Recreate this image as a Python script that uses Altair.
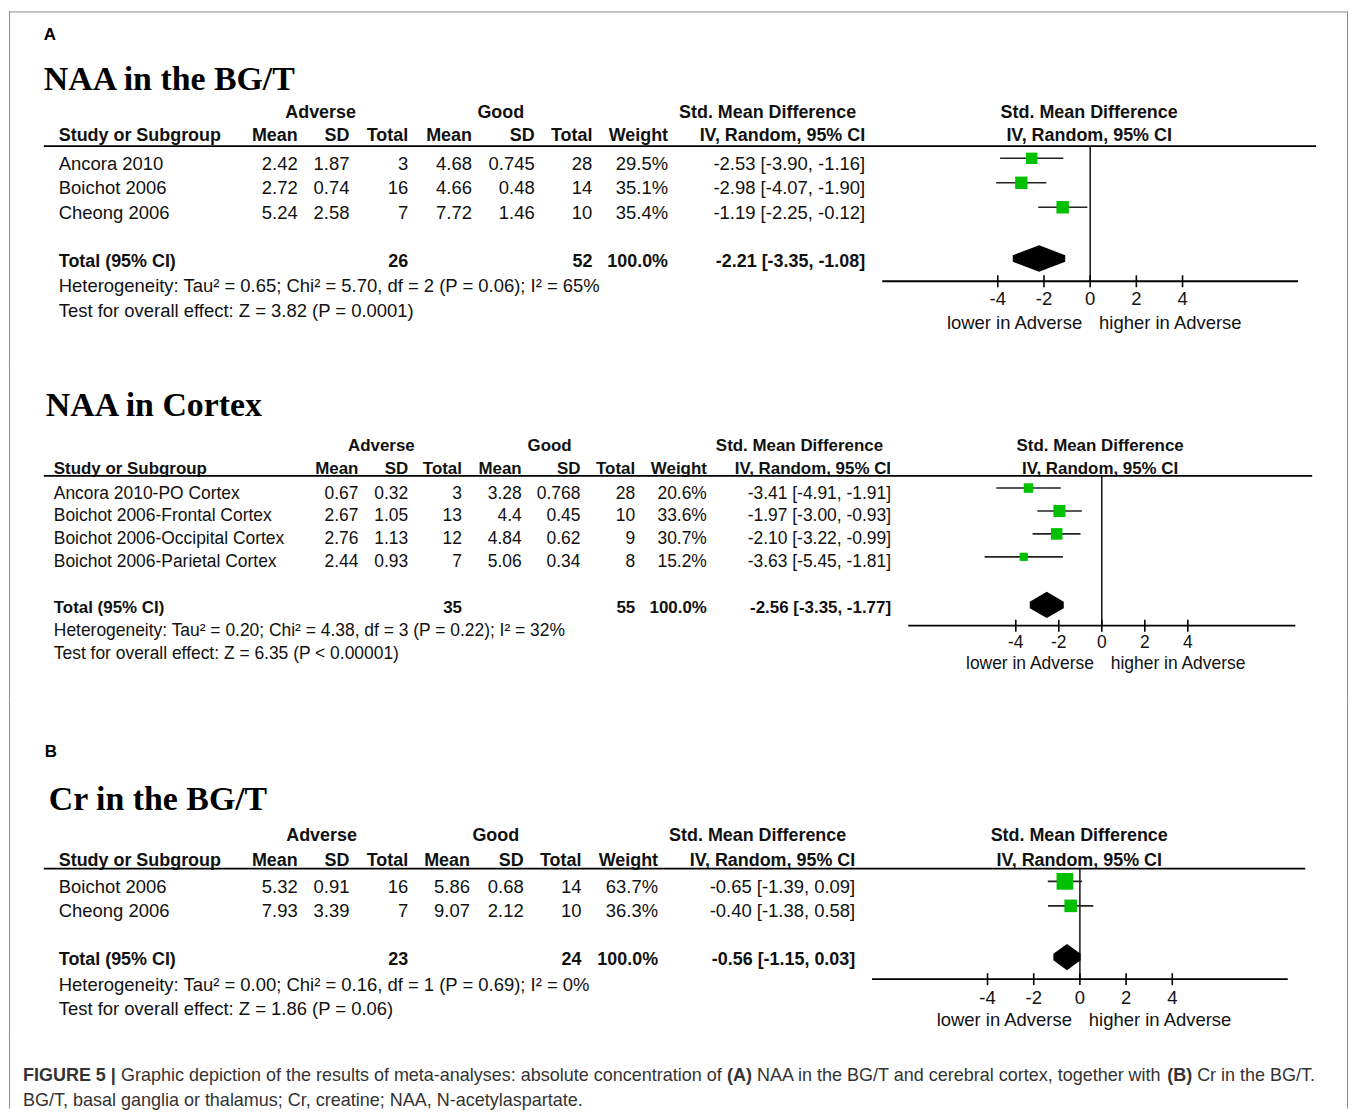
import altair as alt
import pandas as pd

# ====================== DATA ======================
# Panel A (top): NAA in the BG/T
p1_title = "NAA in the BG/T"
p1_study = ["Ancora 2010", "Boichot 2006", "Cheong 2006"]
p1_adv_mean = [2.42, 2.72, 5.24]
p1_adv_sd = [1.87, 0.74, 2.58]
p1_adv_n = [3, 16, 7]
p1_good_mean = [4.68, 4.66, 7.72]
p1_good_sd = [0.745, 0.48, 1.46]
p1_good_n = [28, 14, 10]
p1_weight = [29.5, 35.1, 35.4]
p1_smd = [-2.53, -2.98, -1.19]
p1_ci_lo = [-3.90, -4.07, -2.25]
p1_ci_hi = [-1.16, -1.90, -0.12]
p1_pooled = [-2.21, -3.35, -1.08]
p1_totals = [26, 52]
p1_het = "Heterogeneity: Tau\u00b2 = 0.65; Chi\u00b2 = 5.70, df = 2 (P = 0.06); I\u00b2 = 65%"
p1_test = "Test for overall effect: Z = 3.82 (P = 0.0001)"

# Panel A (middle): NAA in Cortex
p2_title = "NAA in Cortex"
p2_study = ["Ancora 2010-PO Cortex", "Boichot 2006-Frontal Cortex",
            "Boichot 2006-Occipital Cortex", "Boichot 2006-Parietal Cortex"]
p2_adv_mean = [0.67, 2.67, 2.76, 2.44]
p2_adv_sd = [0.32, 1.05, 1.13, 0.93]
p2_adv_n = [3, 13, 12, 7]
p2_good_mean = [3.28, 4.4, 4.84, 5.06]
p2_good_sd = [0.768, 0.45, 0.62, 0.34]
p2_good_n = [28, 10, 9, 8]
p2_weight = [20.6, 33.6, 30.7, 15.2]
p2_smd = [-3.41, -1.97, -2.10, -3.63]
p2_ci_lo = [-4.91, -3.00, -3.22, -5.45]
p2_ci_hi = [-1.91, -0.93, -0.99, -1.81]
p2_pooled = [-2.56, -3.35, -1.77]
p2_totals = [35, 55]
p2_het = "Heterogeneity: Tau\u00b2 = 0.20; Chi\u00b2 = 4.38, df = 3 (P = 0.22); I\u00b2 = 32%"
p2_test = "Test for overall effect: Z = 6.35 (P < 0.00001)"

# Panel B: Cr in the BG/T
p3_title = "Cr in the BG/T"
p3_study = ["Boichot 2006", "Cheong 2006"]
p3_adv_mean = [5.32, 7.93]
p3_adv_sd = [0.91, 3.39]
p3_adv_n = [16, 7]
p3_good_mean = [5.86, 9.07]
p3_good_sd = [0.68, 2.12]
p3_good_n = [14, 10]
p3_weight = [63.7, 36.3]
p3_smd = [-0.65, -0.40]
p3_ci_lo = [-1.39, -1.38]
p3_ci_hi = [0.09, 0.58]
p3_pooled = [-0.56, -1.15, 0.03]
p3_totals = [23, 24]
p3_het = "Heterogeneity: Tau\u00b2 = 0.00; Chi\u00b2 = 0.16, df = 1 (P = 0.69); I\u00b2 = 0%"
p3_test = "Test for overall effect: Z = 1.86 (P = 0.06)"

total_weight = 100.0
axis_domain = [-9, 9]
axis_ticks = [-4, -2, 0, 2, 4]
axis_tick_labels = ["-4", "-2", "0", "2", "4"]
col_headers = ["Study or Subgroup", "Mean", "SD", "Total", "Mean", "SD", "Total",
               "Weight", "IV, Random, 95% CI"]
group_headers = ["Adverse", "Good", "Std. Mean Difference"]
forest_headers = ["Std. Mean Difference", "IV, Random, 95% CI"]
favours = ["lower in Adverse", "higher in Adverse"]
total_label = "Total (95% CI)"
caption_line1 = [("FIGURE 5 |", True),
                 ("Graphic depiction of the results of meta-analyses: absolute concentration of", False),
                 ("(A)", True),
                 ("NAA in the BG/T and cerebral cortex, together with", False),
                 ("(B)", True),
                 ("Cr in the BG/T.", False)]
caption_line2 = "BG/T, basal ganglia or thalamus; Cr, creatine; NAA, N-acetylaspartate."

# ====================== STYLE / LAYOUT ======================
SANS = "Liberation Sans"
SERIF = "Liberation Serif"
INK = "#111111"
GREEN = "#00C000"
FRAME = "#8c8c8c"
CAP = "#333333"
W = 1346
RIGHT_FRAME_X = 1344.5
SQ_OFF = -5.5
DIA_OFF = -6.5
DIA_HALF = 10
REG_SCALE = 1.03   # regular text is a touch wider than the bold header text

LAYOUT = [
    dict(H=357, top=True, letter="A", letter_x=35, letter_y=24, title_x=35, title_base=79,
         row0=128.4, unit=24.6, fs=18, hdr=(-1.085, -0.12),
         cols=[50, 290, 342, 401, 465, 528, 586, 662, 860], grp=[313, 494, 762], fc=1085,
         xr=[877.2, 1294.8], hline=(135.3, 35, 1313), axis_y=271, lab_y=289.2, fav_y=312.5,
         size_k=440),
    dict(H=335, top=False, letter=None, title_x=37, title_base=49.3,
         row0=104.2, unit=23.03, fs=17, hdr=(-1.09, -0.086),
         cols=[45, 351, 401, 455, 515, 574, 629, 701, 886], grp=[374, 543, 794], fc=1096,
         xr=[903.3, 1292.1], hline=(109.5, 35, 1309), axis_y=260, lab_y=277.2, fav_y=298.8,
         size_k=330),
    dict(H=340, top=False, letter="B", letter_x=36, letter_y=51.7, title_x=40, title_base=110,
         row0=162.7, unit=24.6, fs=18, hdr=(-1.07, -0.06),
         cols=[50, 290, 342, 401, 463, 517, 575, 652, 850], grp=[314, 489, 752], fc=1075,
         xr=[866.9, 1284.5], hline=(169, 35, 1302), axis_y=280, lab_y=299.3, fav_y=321,
         size_k=600),
]

PANELS = [
    dict(title=p1_title, study=p1_study, adv_mean=p1_adv_mean, adv_sd=p1_adv_sd, adv_n=p1_adv_n,
         good_mean=p1_good_mean, good_sd=p1_good_sd, good_n=p1_good_n, weight=p1_weight,
         smd=p1_smd, lo=p1_ci_lo, hi=p1_ci_hi, pooled=p1_pooled, totals=p1_totals,
         het=p1_het, test=p1_test),
    dict(title=p2_title, study=p2_study, adv_mean=p2_adv_mean, adv_sd=p2_adv_sd, adv_n=p2_adv_n,
         good_mean=p2_good_mean, good_sd=p2_good_sd, good_n=p2_good_n, weight=p2_weight,
         smd=p2_smd, lo=p2_ci_lo, hi=p2_ci_hi, pooled=p2_pooled, totals=p2_totals,
         het=p2_het, test=p2_test),
    dict(title=p3_title, study=p3_study, adv_mean=p3_adv_mean, adv_sd=p3_adv_sd, adv_n=p3_adv_n,
         good_mean=p3_good_mean, good_sd=p3_good_sd, good_n=p3_good_n, weight=p3_weight,
         smd=p3_smd, lo=p3_ci_lo, hi=p3_ci_hi, pooled=p3_pooled, totals=p3_totals,
         het=p3_het, test=p3_test),
]


def one():
    return pd.DataFrame({"k": [0]})


def label(text, x, y, align="left", bold=False, size=18, font=SANS, baseline="middle", color=INK):
    return alt.Chart(pd.DataFrame({"t": [text]})).mark_text(
        align=align, baseline=baseline, font=font, fontSize=size,
        fontWeight="bold" if bold else "normal", color=color
    ).encode(text="t:N", x=alt.value(x), y=alt.value(y))


def frame(H, top=False):
    layers = [
        alt.Chart(one()).mark_rule(color=FRAME, strokeWidth=1).encode(
            x=alt.value(0.5), y=alt.value(0), y2=alt.value(H)),
        alt.Chart(one()).mark_rule(color=FRAME, strokeWidth=1).encode(
            x=alt.value(RIGHT_FRAME_X), y=alt.value(0), y2=alt.value(H)),
    ]
    if top:
        layers.append(alt.Chart(one()).mark_rule(color=FRAME, strokeWidth=1).encode(
            x=alt.value(0), x2=alt.value(RIGHT_FRAME_X), y=alt.value(0.5)))
    return layers


def fmt_ci(s, l, h):
    return f"{s:.2f} [{l:.2f}, {h:.2f}]"


def panel(d, L):
    n = len(d["study"])
    rows = list(range(1, n + 1))
    total_row = n + 2
    fs = L["fs"]
    rfs = round(fs * REG_SCALE, 2)
    ys = alt.Scale(domain=[0, 1], range=[L["row0"], L["row0"] + L["unit"]], nice=False, zero=False)
    xs = alt.Scale(domain=axis_domain, range=L["xr"], nice=False, zero=False)

    def ypx(r):
        return L["row0"] + r * L["unit"]

    cols = L["cols"]
    layers = frame(L["H"], top=L["top"])
    if L["letter"]:
        layers.append(label(L["letter"], L["letter_x"], L["letter_y"], bold=True, size=17, color="#000000"))
    layers.append(label(d["title"], L["title_x"], L["title_base"], bold=True, size=34, font=SERIF,
                        baseline="alphabetic", color="#000000"))

    h1, h2 = L["hdr"]
    g = L["grp"]
    for i, gh in enumerate(group_headers):
        layers.append(label(gh, g[i], ypx(h1), "center", True, fs))
    for i, ch in enumerate(col_headers):
        layers.append(label(ch, cols[i], ypx(h2), "left" if i == 0 else "right", True, fs))
    layers.append(label(forest_headers[0], L["fc"], ypx(h1), "center", True, fs))
    layers.append(label(forest_headers[1], L["fc"], ypx(h2), "center", True, fs))

    # header rule
    hy, hx0, hx1 = L["hline"]
    layers.append(alt.Chart(one()).mark_rule(color="#000000", strokeWidth=1.8).encode(
        x=alt.value(hx0), x2=alt.value(hx1), y=alt.value(hy)))

    # study rows
    tab = pd.DataFrame({
        "row": rows,
        "study": d["study"],
        "a_mean": [f"{v:g}" for v in d["adv_mean"]],
        "a_sd": [f"{v:g}" for v in d["adv_sd"]],
        "a_n": [str(v) for v in d["adv_n"]],
        "g_mean": [f"{v:g}" for v in d["good_mean"]],
        "g_sd": [f"{v:g}" for v in d["good_sd"]],
        "g_n": [str(v) for v in d["good_n"]],
        "weight": [f"{v:.1f}%" for v in d["weight"]],
        "ci": [fmt_ci(s, l, h) for s, l, h in zip(d["smd"], d["lo"], d["hi"])],
        "smd": d["smd"], "lo": d["lo"], "hi": d["hi"], "w": d["weight"],
    })
    keys = ["study", "a_mean", "a_sd", "a_n", "g_mean", "g_sd", "g_n", "weight", "ci"]
    for i, k in enumerate(keys):
        layers.append(alt.Chart(tab).mark_text(
            align="left" if i == 0 else "right", baseline="middle", font=SANS, fontSize=rfs, color=INK
        ).encode(x=alt.value(cols[i]), y=alt.Y("row:Q", scale=ys, axis=None), text=f"{k}:N"))

    # total row
    tot = pd.DataFrame({
        "row": [total_row], "study": [total_label], "a_n": [str(d["totals"][0])],
        "g_n": [str(d["totals"][1])], "weight": [f"{total_weight:.1f}%"],
        "ci": [fmt_ci(*d["pooled"])],
    })
    for k, i in [("study", 0), ("a_n", 3), ("g_n", 6), ("weight", 7), ("ci", 8)]:
        layers.append(alt.Chart(tot).mark_text(
            align="left" if i == 0 else "right", baseline="middle", font=SANS, fontSize=fs,
            fontWeight="bold", color=INK
        ).encode(x=alt.value(cols[i]), y=alt.Y("row:Q", scale=ys, axis=None), text=f"{k}:N"))

    notes = pd.DataFrame({"row": [total_row + 1, total_row + 2], "t": [d["het"], d["test"]]})
    layers.append(alt.Chart(notes).mark_text(
        align="left", baseline="middle", font=SANS, fontSize=rfs, color=INK
    ).encode(x=alt.value(cols[0]), y=alt.Y("row:Q", scale=ys, axis=None), text="t:N"))

    # ---- forest plot ----
    ay = L["axis_y"]
    layers.append(alt.Chart(one()).mark_rule(color="#000000", strokeWidth=1.4).encode(
        x=alt.XDatum(0, scale=xs, axis=None), y=alt.value(hy), y2=alt.value(ay)))
    layers.append(alt.Chart(one()).mark_rule(color="#000000", strokeWidth=1.8).encode(
        x=alt.XDatum(axis_domain[0], scale=xs, axis=None), x2=alt.X2Datum(axis_domain[1]),
        y=alt.value(ay)))
    tk = pd.DataFrame({"t": axis_ticks, "lab": axis_tick_labels})
    layers.append(alt.Chart(tk).mark_rule(color="#000000", strokeWidth=1.6).encode(
        x=alt.X("t:Q", scale=xs, axis=None), y=alt.value(ay - 6), y2=alt.value(ay + 6)))
    layers.append(alt.Chart(tk).mark_text(
        align="center", baseline="middle", font=SANS, fontSize=rfs, color=INK
    ).encode(x=alt.X("t:Q", scale=xs, axis=None), y=alt.value(L["lab_y"]), text="lab:N"))
    fav = pd.DataFrame({"v": [0], "lo": [favours[0]], "hi": [favours[1]]})
    layers.append(alt.Chart(fav).mark_text(
        align="right", baseline="middle", font=SANS, fontSize=rfs, color=INK, dx=-8
    ).encode(x=alt.X("v:Q", scale=xs, axis=None), y=alt.value(L["fav_y"]), text="lo:N"))
    layers.append(alt.Chart(fav).mark_text(
        align="left", baseline="middle", font=SANS, fontSize=rfs, color=INK, dx=9
    ).encode(x=alt.X("v:Q", scale=xs, axis=None), y=alt.value(L["fav_y"]), text="hi:N"))

    # CI whiskers and weighted squares
    layers.append(alt.Chart(tab).mark_rule(color="#222222", strokeWidth=1.6, yOffset=SQ_OFF).encode(
        x=alt.X("lo:Q", scale=xs, axis=None), x2="hi:Q",
        y=alt.Y("row:Q", scale=ys, axis=None)))
    layers.append(alt.Chart(tab).mark_square(color=GREEN, opacity=1, yOffset=SQ_OFF).encode(
        x=alt.X("smd:Q", scale=xs, axis=None), y=alt.Y("row:Q", scale=ys, axis=None),
        size=alt.Size("w:Q", scale=alt.Scale(domain=[0, 100], range=[0, L["size_k"]]), legend=None)))

    # pooled diamond
    ps, pl, ph = d["pooled"]
    hr = DIA_HALF / L["unit"]
    dia = pd.DataFrame({"x": [pl, ps, ph],
                        "ytop": [total_row, total_row - hr, total_row],
                        "ybot": [total_row, total_row + hr, total_row]})
    layers.append(alt.Chart(dia).mark_area(color="#000000", opacity=1, yOffset=DIA_OFF).encode(
        x=alt.X("x:Q", scale=xs, axis=None),
        y=alt.Y("ytop:Q", scale=ys, axis=None, stack=False), y2="ybot:Q"))

    return alt.layer(*layers).properties(width=W, height=L["H"])


# ---------- caption (Arial metrics to place mixed bold/regular runs) ----------
AR = {' ': 278, '%': 889, '(': 333, ')': 333, ',': 278, '-': 333, '.': 278, '/': 278, ':': 278,
      ';': 278, '|': 260,
      'A': 667, 'B': 667, 'C': 722, 'D': 722, 'E': 667, 'F': 611, 'G': 778, 'H': 722, 'I': 278,
      'N': 722, 'P': 667, 'R': 722, 'S': 667, 'T': 611, 'U': 722,
      'a': 556, 'b': 556, 'c': 500, 'd': 556, 'e': 556, 'f': 278, 'g': 556, 'h': 556, 'i': 222,
      'j': 222, 'k': 500, 'l': 222, 'm': 833, 'n': 556, 'o': 556, 'p': 556, 'q': 556, 'r': 333,
      's': 500, 't': 278, 'u': 556, 'v': 500, 'w': 722, 'x': 500, 'y': 500, 'z': 500}
ARB = {' ': 278, '(': 333, ')': 333, '|': 280, 'A': 722, 'B': 722, 'E': 667, 'F': 611, 'G': 778,
       'I': 278, 'R': 722, 'U': 722}


def em(s, bold):
    tbl = ARB if bold else AR
    return sum(tbl.get(c, 556) for c in s) / 1000.0


def caption_chart():
    H = 70
    x0, x1 = 14, 1314
    total = sum(em(s, b) for s, b in caption_line1) + 0.278 * (len(caption_line1) - 1)
    cfs = (x1 - x0) / total
    layers = frame(H)
    pos = 0.0
    for s, b in caption_line1:
        layers.append(label(s, x0 + pos * cfs, 37, bold=b, size=cfs, color=CAP))
        pos += em(s, b) + 0.278
    layers.append(label(caption_line2, x0, 62, size=cfs, color=CAP))
    return alt.layer(*layers).properties(width=W, height=H)


charts = [panel(d, L) for d, L in zip(PANELS, LAYOUT)] + [caption_chart()]
chart = alt.vconcat(*charts, spacing=0, bounds="flush").properties(padding=0).configure_view(stroke=None)

chart.save("out.html", embed_options={"renderer": "svg", "actions": False})
